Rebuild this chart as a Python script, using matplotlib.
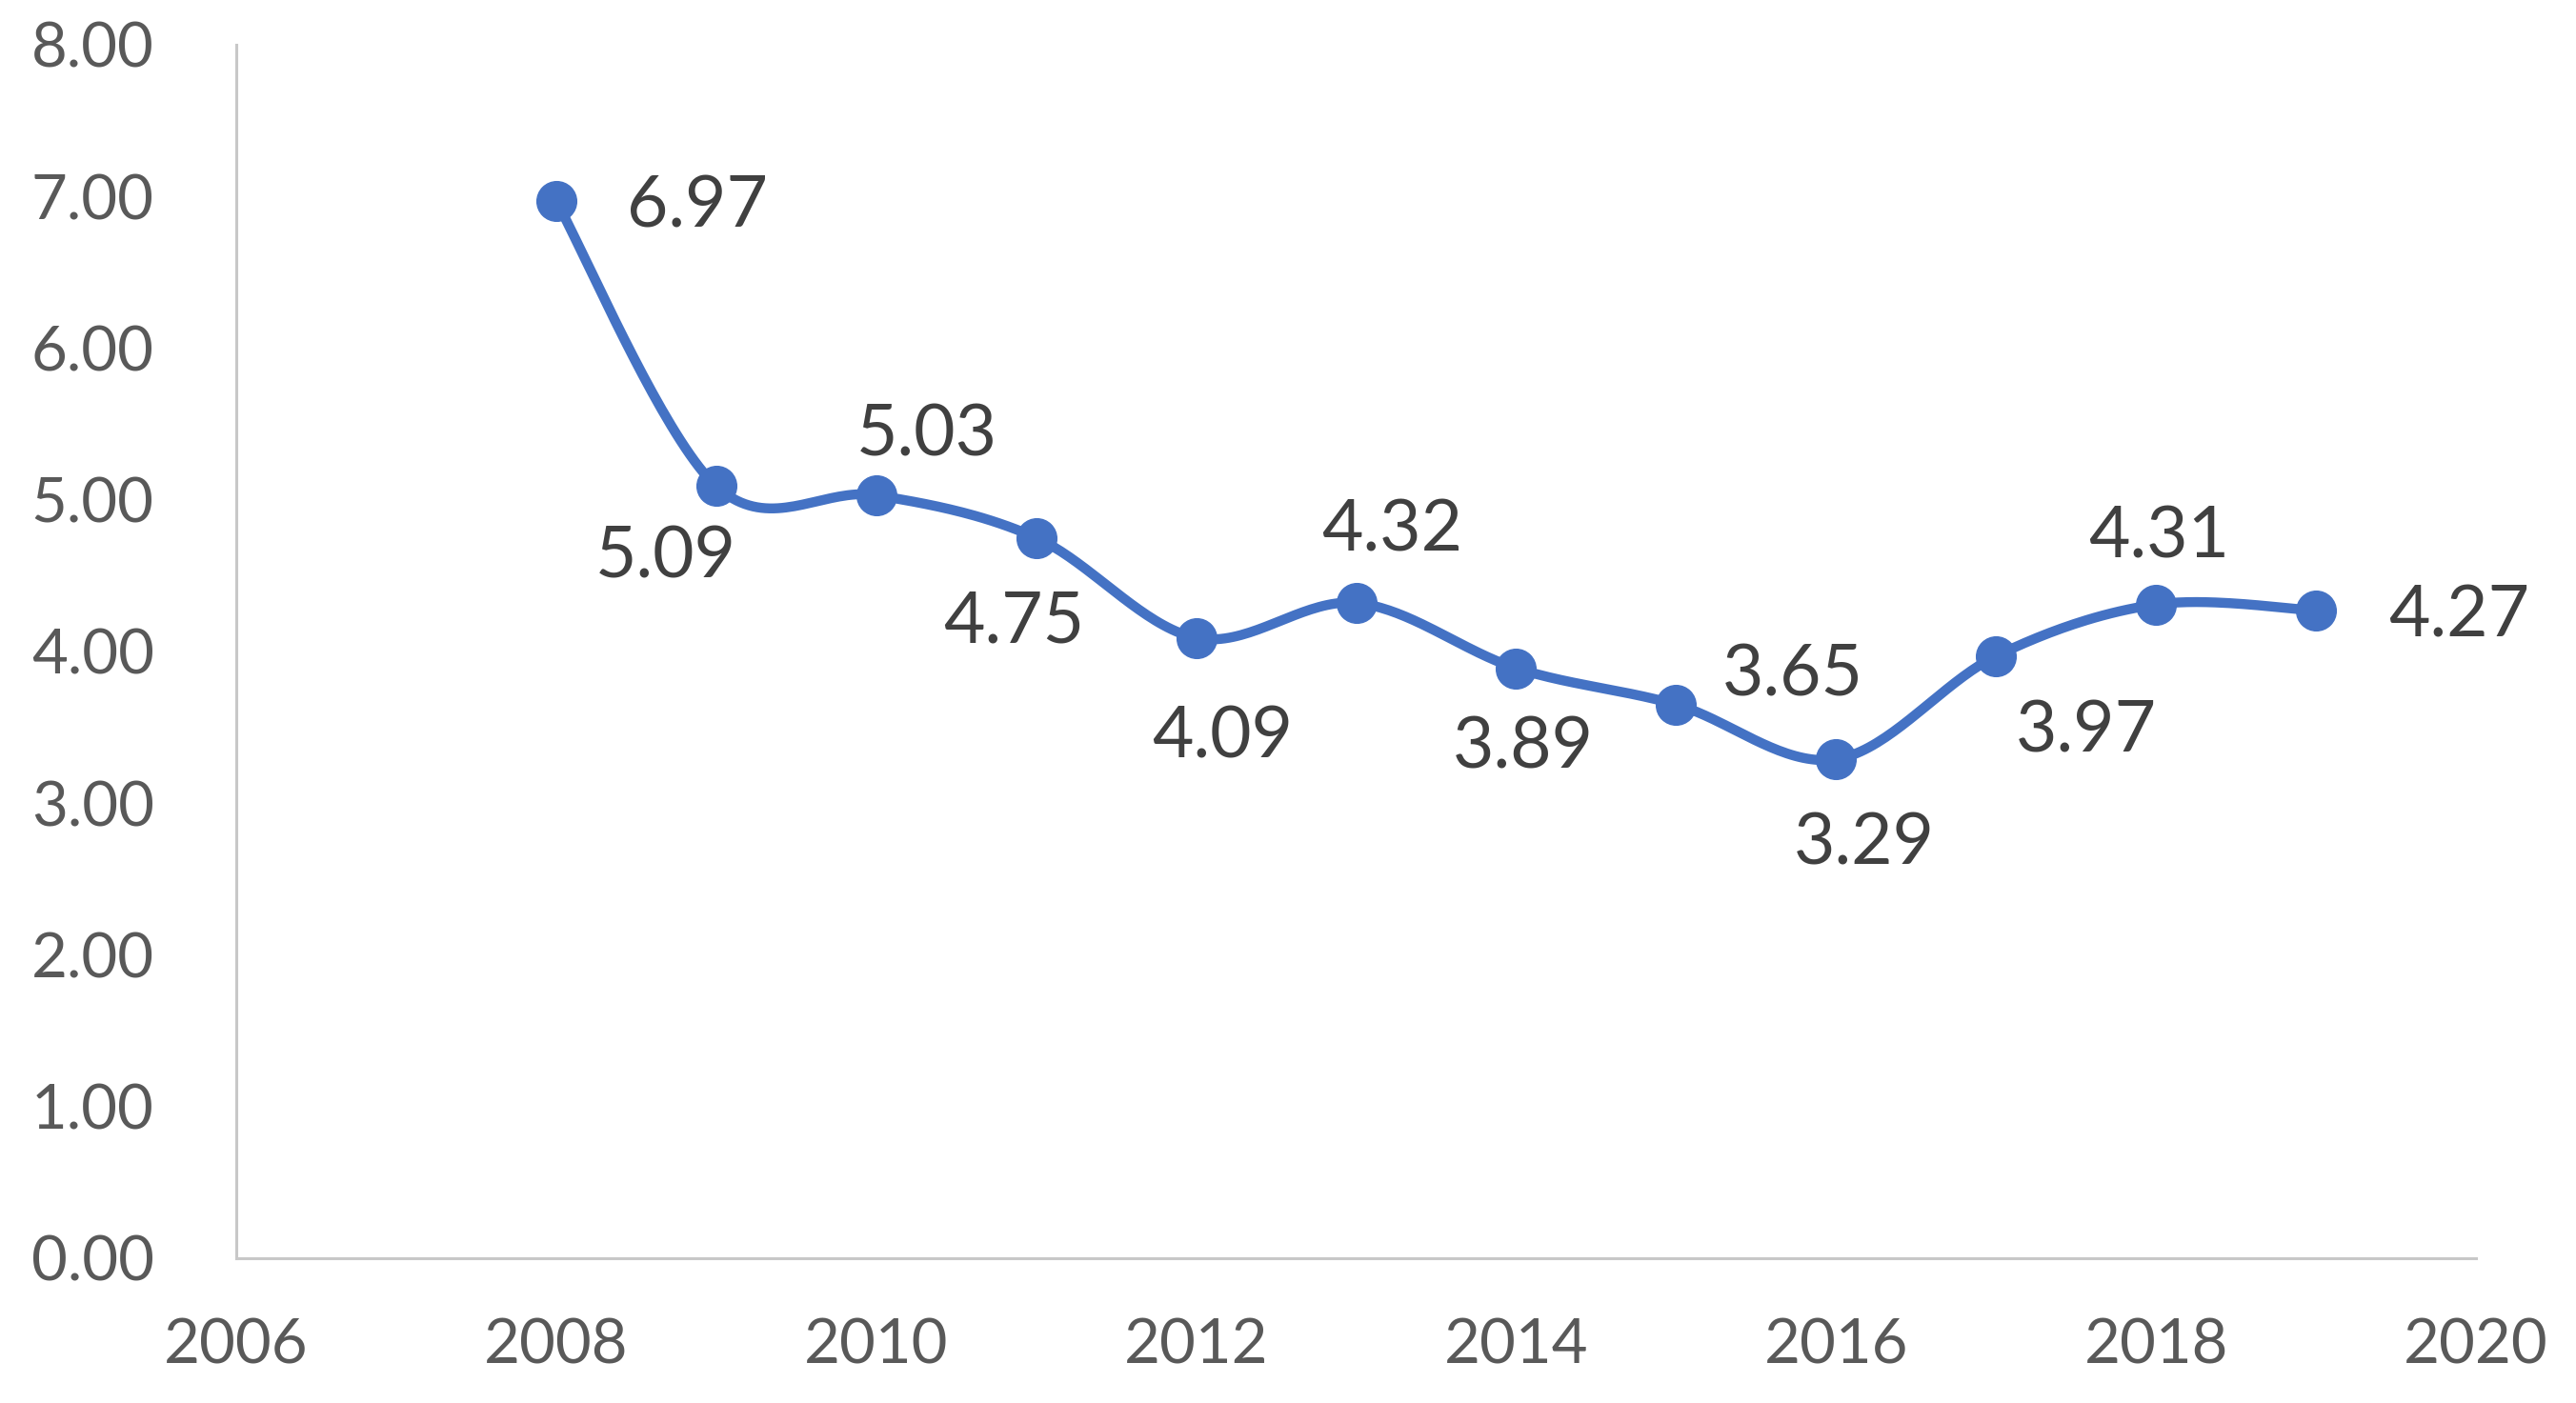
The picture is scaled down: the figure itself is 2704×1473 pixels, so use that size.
import numpy as np
import matplotlib.pyplot as plt

years = [2008, 2009, 2010, 2011, 2012, 2013, 2014, 2015, 2016, 2017, 2018, 2019]
values = [6.97, 5.09, 5.03, 4.75, 4.09, 4.32, 3.89, 3.65, 3.29, 3.97, 4.31, 4.27]
x_ticks = [2006, 2008, 2010, 2012, 2014, 2016, 2018, 2020]
y_ticks = [0, 1, 2, 3, 4, 5, 6, 7, 8]

# label offsets in points (placement only)
label_off = [(107, -4), (-38, -54), (38, 45), (-17, -64), (20, -75), (27, 55),
             (5, -60), (88, 22), (21, -64), (68, -57), (2, 51), (108, -4)]

plt.rcParams['font.family'] = ['Lato', 'DejaVu Sans']


def smooth(xs, ys, n=40):
    # excel-like smoothed line: bezier segments with catmull-rom handles
    P = np.column_stack([xs, ys]).astype(float)
    out = []
    for i in range(len(P) - 1):
        p0 = P[i - 1] if i > 0 else P[i]
        p1 = P[i]
        p2 = P[i + 1]
        p3 = P[i + 2] if i + 2 < len(P) else P[i + 1]
        c1 = p1 + (p2 - p0) / 6
        c2 = p2 - (p3 - p1) / 6
        t = np.linspace(0, 1, n)[:, None]
        seg = (1 - t) ** 3 * p1 + 3 * (1 - t) ** 2 * t * c1 + 3 * (1 - t) * t ** 2 * c2 + t ** 3 * p2
        out.append(seg)
    s = np.vstack(out)
    return s[:, 0], s[:, 1]


fig = plt.figure(figsize=(27.04, 14.73), dpi=100)
ax = fig.add_axes([0.0917, 0.1032, 0.8695, 0.8649])

sx, sy = smooth(years, values)
ax.plot(sx, sy, color='#4472C4', lw=7.5, solid_capstyle='round', solid_joinstyle='round', zorder=2)
ax.plot(years, values, 'o', color='#4472C4', ms=30, zorder=3)

for x, y, (dx, dy) in zip(years, values, label_off):
    ax.annotate('%.2f' % y, (x, y), xytext=(dx, dy), textcoords='offset points',
                ha='center', va='center', fontsize=54, color='#404040')

ax.set_xlim(2006, 2020)
ax.set_ylim(0, 8)
ax.set_xticks(x_ticks)
ax.set_yticks(y_ticks)
ax.set_yticklabels(['%.2f' % v for v in y_ticks])
ax.tick_params(length=0, labelsize=47, labelcolor='#595959')
ax.tick_params(axis='y', pad=62)
ax.tick_params(axis='x', pad=45)
for s in ['top', 'right']:
    ax.spines[s].set_visible(False)
for s in ['left', 'bottom']:
    ax.spines[s].set_color('#C8C8C8')
    ax.spines[s].set_linewidth(2.2)

fig.savefig('out.png', dpi=100)
